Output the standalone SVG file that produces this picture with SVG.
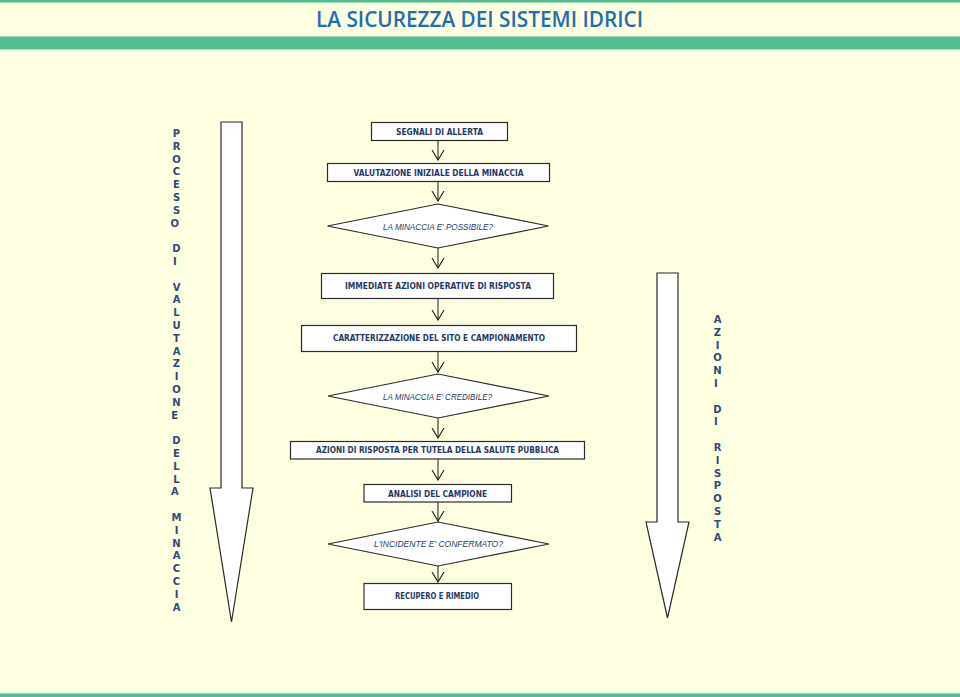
<svg xmlns="http://www.w3.org/2000/svg" width="960" height="697" viewBox="0 0 960 697">
<defs>
<style>
.bg{fill:#FFFFE1}
.band{fill:#52BE8F}
.box{fill:#FFFFFF;stroke:#2A2A2A;stroke-width:1.2}
.big{fill:#FFFFFF;stroke:#2A2A2A;stroke-width:1.2}
.bt{font-family:"DejaVu Sans",Verdana,sans-serif;font-weight:bold;font-size:8px;fill:#1F3864;text-anchor:middle}
.dt{font-family:"Liberation Sans",Arial,sans-serif;font-style:italic;font-size:8.5px;fill:#1F3864;text-anchor:middle}
.vt{font-family:"DejaVu Sans",Verdana,sans-serif;font-weight:bold;font-size:10px;fill:#2E4A7A;text-anchor:middle}
.con{stroke:#1A1A1A;stroke-width:1;fill:none;marker-end:url(#v)}
.title{font-family:"Open Sans","Liberation Sans",sans-serif;font-weight:600;font-size:21px;fill:#1F6DB3;text-anchor:middle}
</style>
<marker id="v" viewBox="0 -7 11 14" refX="10" refY="0" markerWidth="11" markerHeight="14" markerUnits="userSpaceOnUse" orient="auto">
<path d="M0,-6 L10,0 L0,6" fill="none" stroke="#1A1A1A" stroke-width="1.1"/>
</marker>
</defs>
<rect class="bg" x="0" y="0" width="960" height="697"/>
<rect class="band" x="0" y="0" width="960" height="2.5"/>
<rect x="0" y="35.5" width="960" height="1" fill="#D8F0DE"/>
<rect class="band" x="0" y="36.5" width="960" height="13"/>
<rect x="0" y="692.5" width="960" height="1" fill="#D8F0DE"/>
<rect class="band" x="0" y="693.5" width="960" height="3.5"/>
<text class="title" x="479.5" y="27" textLength="327" lengthAdjust="spacingAndGlyphs">LA SICUREZZA DEI SISTEMI IDRICI</text>

<g id="arrow-left">
<path class="big" d="M221,122 L242,122 L242,488 L253,488 L231.5,622 L210,488 L221,488 Z"/>
</g>
<g id="label-left">
<text class="vt">
<tspan x="176.5" y="137">P</tspan><tspan x="176.5" y="149.8">R</tspan><tspan x="176.5" y="162.6">O</tspan><tspan x="176.5" y="175.4">C</tspan><tspan x="176.5" y="188.2">E</tspan><tspan x="176.5" y="201">S</tspan><tspan x="176.5" y="213.8">S</tspan><tspan x="176.5" y="226.6">O</tspan>
<tspan x="176.5" y="252.2">D</tspan><tspan x="176.5" y="265">I</tspan>
<tspan x="176.5" y="290.6">V</tspan><tspan x="176.5" y="303.4">A</tspan><tspan x="176.5" y="316.2">L</tspan><tspan x="176.5" y="329">U</tspan><tspan x="176.5" y="341.8">T</tspan><tspan x="176.5" y="354.6">A</tspan><tspan x="176.5" y="367.4">Z</tspan><tspan x="176.5" y="380.2">I</tspan><tspan x="176.5" y="393">O</tspan><tspan x="176.5" y="405.8">N</tspan><tspan x="176.5" y="418.6">E</tspan>
<tspan x="176.5" y="444.2">D</tspan><tspan x="176.5" y="457">E</tspan><tspan x="176.5" y="469.8">L</tspan><tspan x="176.5" y="482.6">L</tspan><tspan x="176.5" y="495.4">A</tspan>
<tspan x="176.5" y="521">M</tspan><tspan x="176.5" y="533.8">I</tspan><tspan x="176.5" y="546.6">N</tspan><tspan x="176.5" y="559.4">A</tspan><tspan x="176.5" y="572.2">C</tspan><tspan x="176.5" y="585">C</tspan><tspan x="176.5" y="597.8">I</tspan><tspan x="176.5" y="610.6">A</tspan>
</text>
</g>

<g id="arrow-right">
<path class="big" d="M657,273 L678,273 L678,522 L689,522 L667.5,618 L646,522 L657,522 Z"/>
</g>
<g id="label-right">
<text class="vt">
<tspan x="717.5" y="323">A</tspan><tspan x="717.5" y="335.8">Z</tspan><tspan x="717.5" y="348.6">I</tspan><tspan x="717.5" y="361.4">O</tspan><tspan x="717.5" y="374.2">N</tspan><tspan x="717.5" y="387">I</tspan>
<tspan x="717.5" y="412.6">D</tspan><tspan x="717.5" y="425.4">I</tspan>
<tspan x="717.5" y="451">R</tspan><tspan x="717.5" y="463.8">I</tspan><tspan x="717.5" y="476.6">S</tspan><tspan x="717.5" y="489.4">P</tspan><tspan x="717.5" y="502.2">O</tspan><tspan x="717.5" y="515">S</tspan><tspan x="717.5" y="527.8">T</tspan><tspan x="717.5" y="540.6">A</tspan>
</text>
</g>

<g id="connectors">
<line class="con" x1="438" y1="141" x2="438" y2="160"/>
<line class="con" x1="438" y1="181" x2="438" y2="201"/>
<line class="con" x1="438" y1="248" x2="438" y2="268"/>
<line class="con" x1="438" y1="299" x2="438" y2="320"/>
<line class="con" x1="438" y1="352" x2="438" y2="372"/>
<line class="con" x1="438" y1="418" x2="438" y2="438"/>
<line class="con" x1="438" y1="459" x2="438" y2="480"/>
<line class="con" x1="438" y1="502" x2="438" y2="521"/>
<line class="con" x1="438" y1="566" x2="438" y2="582"/>
</g>

<g id="n1"><rect class="box" x="371.5" y="122.5" width="136" height="18"/><text class="bt" x="439.5" y="134.5" textLength="87" lengthAdjust="spacingAndGlyphs">SEGNALI DI ALLERTA</text></g>
<g id="n2"><rect class="box" x="327.5" y="163.5" width="222" height="18"/><text class="bt" x="438.5" y="175.5" textLength="170" lengthAdjust="spacingAndGlyphs">VALUTAZIONE INIZIALE DELLA MINACCIA</text></g>
<g id="n3"><path class="box" d="M327.5,226 L438,204 L548.5,226 L438,248 Z"/><text class="dt" x="438" y="229.5" textLength="110" lengthAdjust="spacingAndGlyphs">LA MINACCIA E' POSSIBILE?</text></g>
<g id="n4"><rect class="box" x="321.5" y="273.5" width="232" height="25"/><text class="bt" x="438" y="289" textLength="186" lengthAdjust="spacingAndGlyphs">IMMEDIATE AZIONI OPERATIVE DI RISPOSTA</text></g>
<g id="n5"><rect class="box" x="301.5" y="325.5" width="275" height="26"/><text class="bt" x="439" y="341" textLength="212" lengthAdjust="spacingAndGlyphs">CARATTERIZZAZIONE DEL SITO E CAMPIONAMENTO</text></g>
<g id="n6"><path class="box" d="M328,396 L438,374 L549,396 L438,418 Z"/><text class="dt" x="437.5" y="399.5" textLength="109" lengthAdjust="spacingAndGlyphs">LA MINACCIA E' CREDIBILE?</text></g>
<g id="n7"><rect class="box" x="290.5" y="441.5" width="294" height="17.5"/><text class="bt" x="437.5" y="453" textLength="243" lengthAdjust="spacingAndGlyphs">AZIONI DI RISPOSTA PER TUTELA DELLA SALUTE PUBBLICA</text></g>
<g id="n8"><rect class="box" x="364" y="484.5" width="147.5" height="17.5"/><text class="bt" x="437.5" y="496.5" textLength="99" lengthAdjust="spacingAndGlyphs">ANALISI DEL CAMPIONE</text></g>
<g id="n9"><path class="box" d="M328,544 L438,522 L549,544 L438,566 Z"/><text class="dt" x="438.5" y="547" textLength="129" lengthAdjust="spacingAndGlyphs">L'INCIDENTE E' CONFERMATO?</text></g>
<g id="n10"><rect class="box" x="364" y="583.5" width="147.5" height="26"/><text class="bt" x="437" y="599" textLength="84" lengthAdjust="spacingAndGlyphs">RECUPERO E RIMEDIO</text></g>
</svg>
